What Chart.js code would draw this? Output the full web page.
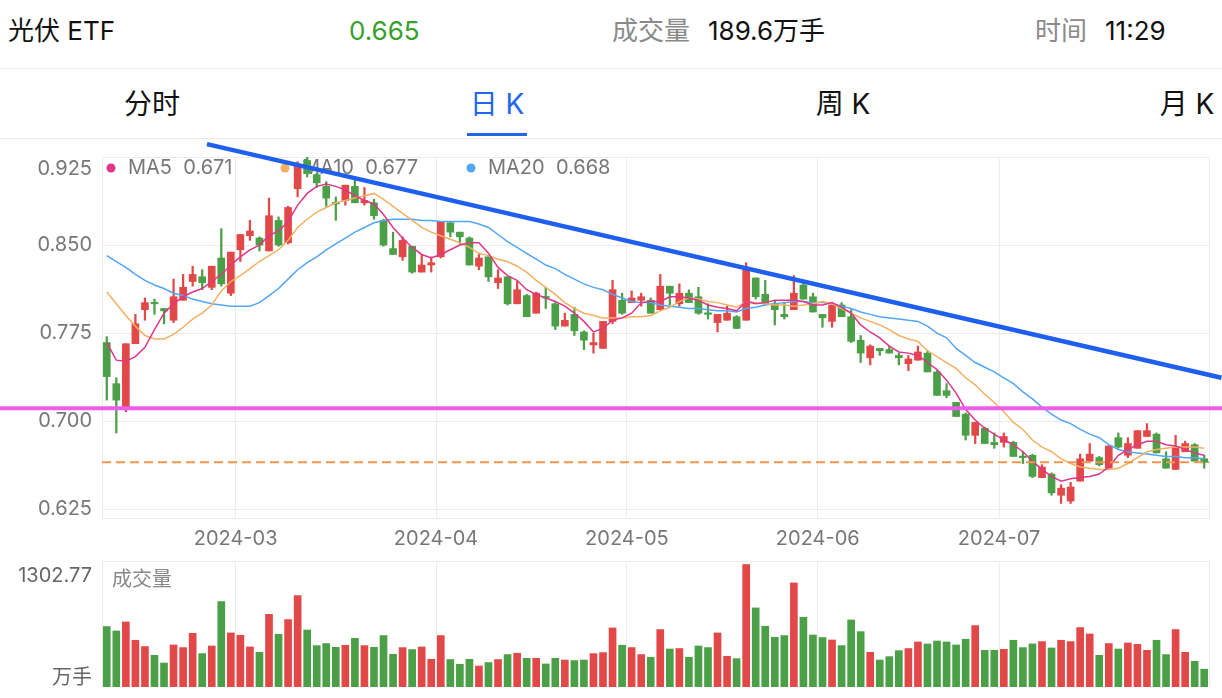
<!DOCTYPE html>
<html lang="zh-CN">
<head>
<meta charset="UTF-8">
<meta name="viewport" content="width=device-width, initial-scale=1.0">
<title>光伏 ETF 日K</title>
<script src="https://cdn.jsdelivr.net/npm/chart.js"></script>
<style>
body { margin: 0; background: #fff; font-family: Inter, "Noto Sans CJK SC", sans-serif; }
#page { position: relative; width: 1222px; height: 698px; overflow: hidden; }
.txt { position: absolute; line-height: 1; white-space: nowrap; transform: translateY(-50%); }
.mid { transform: translate(-50%, -50%); }
.rule { position: absolute; left: 0; width: 1222px; height: 1px; background: #ebebeb; }
canvas { position: absolute; left: 0; }
</style>
</head>
<body>
<div id="page">
    <!-- 顶部行情 -->
    <div class="txt" style="left:8px;top:31px;font-size:26px;color:#111">光伏 ETF</div>
    <div class="txt" id="lastPx" style="left:349px;top:31px;font-size:26px;color:#35a02a"></div>
    <div class="txt" style="left:612px;top:31px;font-size:26px;color:#8a8a8a">成交量</div>
    <div class="txt" id="lastVol" style="left:708px;top:31px;font-size:26px;color:#111"></div>
    <div class="txt" style="left:1035px;top:31px;font-size:26px;color:#8a8a8a">时间</div>
    <div class="txt" style="left:1105px;top:31px;font-size:26px;color:#111">11:29</div>
    <div class="rule" style="top:68px"></div>

    <!-- 周期切换 -->
    <div class="txt mid" style="left:152px;top:104px;font-size:28px;color:#111">分时</div>
    <div class="txt mid" style="left:497px;top:104px;font-size:28px;color:#2366ea">日 K</div>
    <div class="txt mid" style="left:843px;top:104px;font-size:28px;color:#111">周 K</div>
    <div class="txt mid" style="left:1187px;top:104px;font-size:28px;color:#111">月 K</div>
    <div style="position:absolute;left:467px;top:133px;width:60px;height:3px;background:#2366ea"></div>
    <div class="rule" style="top:138px"></div>

    <canvas id="priceChart" width="1222" height="410" style="top:140px"></canvas>
    <canvas id="volChart" width="1222" height="143" style="top:555px"></canvas>

    <div class="txt" id="volTop" style="right:1130px;top:575px;font-size:20px;color:#666"></div>
    <div class="txt" style="right:1130px;top:677px;font-size:20px;color:#666">万手</div>
    <div class="txt" style="left:112px;top:579px;font-size:20px;color:#888">成交量</div>
</div>

<script>
// ======= 数据 =======
const monthLabels = ['2024-03', '2024-04', '2024-05', '2024-06', '2024-07'];
const monthStarts = [14, 35, 55, 75, 94];
const priceTicks = [0.625, 0.700, 0.775, 0.850, 0.925];

const openP = [0.767,0.732,0.711,0.766,0.795,0.801,0.796,0.786,0.803,0.819,
0.823,0.814,0.839,0.809,0.846,0.858,0.856,0.845,0.871,0.852,
0.898,0.922,0.910,0.900,0.886,0.888,0.900,0.886,0.886,0.871,
0.847,0.840,0.849,0.827,0.833,0.840,0.869,0.861,0.856,0.832,
0.840,0.818,0.823,0.800,0.807,0.792,0.806,0.800,0.781,0.791,
0.776,0.765,0.762,0.785,0.803,0.801,0.803,0.803,0.795,0.815,
0.800,0.809,0.806,0.792,0.784,0.786,0.789,0.786,0.822,0.808,
0.800,0.791,0.795,0.816,0.806,0.791,0.785,0.799,0.789,0.769,
0.754,0.762,0.761,0.756,0.749,0.752,0.758,0.742,0.726,0.716,
0.706,0.688,0.694,0.682,0.682,0.682,0.670,0.671,0.652,0.655,
0.637,0.632,0.649,0.666,0.669,0.660,0.686,0.671,0.677,0.687,
0.689,0.668,0.659,0.674,0.680,0.668];

const closeP = [0.738,0.718,0.766,0.783,0.801,0.800,0.794,0.806,0.814,0.825,
0.818,0.832,0.817,0.844,0.859,0.862,0.850,0.875,0.850,0.882,
0.918,0.911,0.903,0.890,0.885,0.901,0.886,0.888,0.875,0.850,
0.842,0.854,0.827,0.833,0.835,0.870,0.861,0.857,0.833,0.839,
0.823,0.822,0.800,0.812,0.789,0.809,0.805,0.781,0.786,0.777,
0.769,0.767,0.785,0.812,0.792,0.805,0.806,0.792,0.815,0.809,
0.809,0.801,0.792,0.791,0.791,0.792,0.779,0.829,0.806,0.800,
0.795,0.789,0.809,0.804,0.793,0.788,0.799,0.789,0.768,0.758,
0.764,0.760,0.758,0.754,0.753,0.759,0.742,0.722,0.722,0.704,
0.688,0.699,0.681,0.680,0.687,0.670,0.669,0.653,0.661,0.639,
0.643,0.644,0.668,0.672,0.663,0.679,0.678,0.681,0.692,0.692,
0.673,0.660,0.678,0.681,0.666,0.665];

const highP = [0.772,0.737,0.766,0.791,0.805,0.804,0.796,0.821,0.825,0.832,
0.829,0.832,0.864,0.844,0.859,0.871,0.857,0.890,0.874,0.883,
0.921,0.925,0.911,0.904,0.891,0.901,0.907,0.899,0.889,0.872,
0.861,0.857,0.849,0.842,0.840,0.870,0.870,0.861,0.857,0.842,
0.840,0.829,0.823,0.819,0.808,0.810,0.814,0.801,0.792,0.797,
0.777,0.775,0.785,0.820,0.809,0.811,0.809,0.805,0.825,0.815,
0.817,0.812,0.814,0.800,0.791,0.798,0.790,0.835,0.822,0.820,
0.803,0.801,0.824,0.818,0.809,0.791,0.799,0.801,0.795,0.773,
0.765,0.762,0.764,0.758,0.756,0.764,0.760,0.743,0.732,0.716,
0.707,0.699,0.695,0.690,0.690,0.683,0.674,0.672,0.663,0.656,
0.646,0.648,0.672,0.681,0.670,0.679,0.690,0.686,0.692,0.698,
0.690,0.674,0.688,0.683,0.681,0.671];

const lowP = [0.718,0.690,0.708,0.766,0.786,0.791,0.783,0.784,0.803,0.815,
0.812,0.812,0.815,0.807,0.836,0.854,0.845,0.845,0.849,0.851,
0.891,0.908,0.899,0.883,0.871,0.884,0.886,0.884,0.872,0.849,
0.842,0.837,0.826,0.827,0.827,0.839,0.857,0.851,0.833,0.829,
0.819,0.813,0.799,0.800,0.789,0.792,0.796,0.778,0.781,0.773,
0.761,0.758,0.762,0.783,0.791,0.801,0.798,0.792,0.795,0.799,
0.798,0.801,0.791,0.787,0.776,0.786,0.779,0.786,0.804,0.799,
0.782,0.787,0.795,0.804,0.793,0.780,0.780,0.789,0.767,0.750,
0.748,0.756,0.758,0.748,0.743,0.752,0.742,0.722,0.720,0.704,
0.684,0.681,0.681,0.677,0.678,0.670,0.664,0.652,0.652,0.637,
0.630,0.630,0.649,0.666,0.662,0.660,0.677,0.669,0.677,0.687,
0.673,0.660,0.659,0.674,0.666,0.660];

const ma5 = [0.767,0.752,0.751,0.755,0.763,0.778,0.792,0.800,0.806,0.810,
0.813,0.819,0.825,0.833,0.840,0.846,0.850,0.858,0.862,0.870,
0.884,0.894,0.900,0.902,0.900,0.897,0.892,0.888,0.885,0.876,
0.865,0.856,0.848,0.842,0.839,0.842,0.846,0.850,0.852,0.852,
0.843,0.831,0.824,0.820,0.812,0.808,0.805,0.802,0.798,0.792,
0.785,0.776,0.779,0.786,0.788,0.792,0.801,0.802,0.802,0.806,
0.806,0.805,0.803,0.799,0.797,0.796,0.794,0.802,0.800,0.801,
0.803,0.803,0.803,0.802,0.799,0.799,0.801,0.797,0.792,0.782,
0.776,0.771,0.764,0.759,0.758,0.756,0.750,0.744,0.735,0.724,
0.710,0.701,0.694,0.689,0.684,0.680,0.674,0.666,0.659,0.653,
0.649,0.651,0.652,0.653,0.655,0.661,0.671,0.676,0.680,0.683,
0.683,0.680,0.679,0.676,0.673,0.671];

const ma10 = [0.810,0.800,0.790,0.781,0.773,0.770,0.770,0.774,0.780,0.787,
0.792,0.799,0.811,0.819,0.824,0.830,0.836,0.841,0.846,0.854,
0.865,0.872,0.878,0.882,0.886,0.888,0.890,0.892,0.894,0.889,
0.883,0.877,0.871,0.865,0.861,0.858,0.855,0.852,0.848,0.843,
0.841,0.838,0.836,0.832,0.827,0.820,0.814,0.808,0.801,0.796,
0.792,0.790,0.788,0.788,0.788,0.789,0.789,0.790,0.794,0.797,
0.802,0.805,0.804,0.802,0.801,0.799,0.797,0.802,0.801,0.800,
0.799,0.799,0.798,0.799,0.800,0.802,0.800,0.796,0.792,0.788,
0.785,0.782,0.778,0.773,0.770,0.768,0.760,0.755,0.750,0.745,
0.737,0.731,0.723,0.716,0.708,0.699,0.693,0.684,0.678,0.674,
0.668,0.664,0.661,0.660,0.659,0.659,0.660,0.664,0.669,0.674,
0.676,0.677,0.678,0.678,0.678,0.677];

const ma20 = [0.841,0.836,0.831,0.825,0.820,0.816,0.813,0.809,0.807,0.804,
0.802,0.800,0.799,0.798,0.798,0.798,0.801,0.807,0.813,0.821,
0.829,0.835,0.840,0.846,0.851,0.856,0.861,0.865,0.869,0.871,
0.872,0.872,0.872,0.871,0.871,0.870,0.870,0.870,0.870,0.868,
0.865,0.859,0.853,0.848,0.843,0.838,0.833,0.830,0.825,0.821,
0.817,0.814,0.812,0.808,0.805,0.802,0.801,0.801,0.799,0.798,
0.797,0.796,0.796,0.795,0.794,0.794,0.793,0.796,0.797,0.799,
0.800,0.801,0.802,0.802,0.801,0.801,0.800,0.798,0.796,0.793,
0.791,0.789,0.788,0.787,0.786,0.785,0.781,0.775,0.771,0.762,
0.756,0.750,0.746,0.742,0.737,0.732,0.725,0.719,0.712,0.706,
0.701,0.698,0.693,0.689,0.686,0.680,0.676,0.674,0.673,0.672,
0.671,0.670,0.670,0.669,0.669,0.668];

// 成交量（万手）
const volume = [643,596,692,497,430,337,255,447,419,571,
355,436,909,575,550,426,369,773,561,717,
972,606,440,462,422,444,518,440,422,547,
348,419,398,426,295,547,292,242,295,223,
260,292,345,359,305,305,245,305,287,281,
287,355,366,628,444,419,345,316,611,404,
409,316,436,419,575,327,302,1302.77,841,646,
529,547,1107,742,553,526,500,440,713,589,
369,287,323,387,409,479,458,489,479,447,
508,653,390,390,401,497,419,458,483,415,
497,483,632,564,337,462,404,468,454,390,
497,345,611,369,273,189.6];

// 画线：下降趋势线、支撑位、现价
const trendFrom = [10.5, 0.936];
const trendTo = [116.8, 0.737];
const supportLevel = 0.711;
const lastPrice = 0.665;

// ======= 配置 =======
const upColor = '#e34848';
const downColor = '#4ba047';
const gridColor = '#ececec';
const xMin = -0.5, xMax = openP.length - 0.5;
const xGrid = [xMin, ...monthStarts.map(s => s - 0.5), xMax];

Chart.defaults.font.family = 'Inter, "Noto Sans CJK SC", sans-serif';
Chart.defaults.animation = false;

const idx = openP.map((_, i) => i);
const candleColor = i => closeP[i] >= openP[i] ? upColor : downColor;
const pts = arr => arr.map((v, i) => ({ x: i, y: v }));

document.getElementById('lastPx').textContent = closeP[closeP.length - 1].toFixed(3);
document.getElementById('lastVol').textContent = volume[volume.length - 1] + '万手';
document.getElementById('volTop').textContent = Math.max(...volume).toFixed(2);

const legendItems = [
    { name: 'MA5', values: ma5, color: '#e0368a', dotX: 111 },
    { name: 'MA10', values: ma10, color: '#f3b062', dotX: 285 },
    { name: 'MA20', values: ma20, color: '#52a6f6', dotX: 471 }
];

const pricePainter = {
    id: 'pricePainter',
    beforeDatasetsDraw(chart) {
        const ctx = chart.ctx;
        const y = chart.chartArea.top + 11;
        ctx.save();
        ctx.font = '20px ' + Chart.defaults.font.family;
        ctx.textBaseline = 'middle';
        legendItems.forEach(item => {
            ctx.fillStyle = item.color;
            ctx.beginPath();
            ctx.arc(item.dotX, y, 4.5, 0, Math.PI * 2);
            ctx.fill();
            ctx.fillStyle = '#777';
            ctx.fillText(item.name + '  ' + item.values[item.values.length - 1].toFixed(3), item.dotX + 17, y);
        });
        ctx.restore();
    },
    afterDraw(chart) {
        const ctx = chart.ctx;
        const scale = chart.scales.y;
        ctx.save();
        ctx.font = '20px ' + Chart.defaults.font.family;
        ctx.fillStyle = '#777';
        ctx.textAlign = 'right';
        ctx.textBaseline = 'middle';
        priceTicks.forEach(v => {
            let py = scale.getPixelForValue(v);
            if (v === scale.max) py += 12;
            ctx.fillText(v.toFixed(3), chart.chartArea.left - 10, py);
        });
        ctx.restore();
    }
};

function lineSet(label, data, color, width, order, extra) {
    return Object.assign({
        type: 'line', label: label, data: data,
        borderColor: color, borderWidth: width,
        pointRadius: 0, tension: 0, order: order
    }, extra || {});
}

new Chart(document.getElementById('priceChart'), {
    type: 'bar',
    data: {
        datasets: [
            lineSet('趋势线', [{ x: trendFrom[0], y: trendFrom[1] }, { x: trendTo[0], y: trendTo[1] }], '#1f5fef', 4.5, 0, { clip: false }),
            lineSet('支撑', [{ x: -13, y: supportLevel }, { x: 120, y: supportLevel }], '#ee5cee', 4, 1, { clip: false }),
            lineSet('现价', [{ x: xMin, y: lastPrice }, { x: xMax, y: lastPrice }], '#f0974f', 2, 2, { borderDash: [9, 5] }),
            lineSet('MA5', pts(ma5), '#e0368a', 1.5, 3),
            lineSet('MA10', pts(ma10), '#f3b062', 1.5, 4),
            lineSet('MA20', pts(ma20), '#52a6f6', 1.5, 5),
            {
                label: '实体',
                data: idx.map(i => ({ x: i, y: [openP[i], closeP[i]] })),
                backgroundColor: idx.map(candleColor),
                barThickness: 7, grouped: false, minBarLength: 1.5, order: 8
            },
            {
                label: '影线',
                data: idx.map(i => ({ x: i, y: [lowP[i], highP[i]] })),
                backgroundColor: idx.map(candleColor),
                barThickness: 1.6, grouped: false, order: 9
            }
        ]
    },
    options: {
        responsive: false,
        events: [],
        layout: { padding: { top: 17, right: 13, left: 0, bottom: 0 } },
        plugins: { legend: { display: false }, tooltip: { enabled: false } },
        scales: {
            x: {
                type: 'linear', min: xMin, max: xMax, offset: false,
                afterBuildTicks: s => { s.ticks = xGrid.map(v => ({ value: v })); },
                afterFit: s => { s.height = 32; },
                grid: { color: gridColor, drawTicks: false, offset: false },
                border: { display: true, color: gridColor },
                ticks: {
                    autoSkip: false, maxRotation: 0, padding: 9, color: '#777',
                    font: { size: 20 },
                    callback: v => {
                        const k = monthStarts.indexOf(v + 0.5);
                        return k >= 0 ? monthLabels[k] : '';
                    }
                }
            },
            y: {
                min: 0.6176, max: 0.925,
                afterBuildTicks: s => { s.ticks = priceTicks.map(v => ({ value: v })); },
                afterFit: s => { s.width = 102; },
                grid: { color: gridColor, drawTicks: false },
                border: { display: false },
                ticks: { display: false }
            }
        }
    },
    plugins: [pricePainter]
});

const volMax = 1340;

new Chart(document.getElementById('volChart'), {
    type: 'bar',
    data: {
        datasets: [{
            label: '成交量',
            data: idx.map(i => ({ x: i, y: volume[i] })),
            backgroundColor: idx.map(candleColor),
            barThickness: 7
        }]
    },
    options: {
        responsive: false,
        events: [],
        layout: { padding: { top: 6, right: 13, left: 0, bottom: 11 } },
        plugins: { legend: { display: false }, tooltip: { enabled: false } },
        scales: {
            x: {
                type: 'linear', min: xMin, max: xMax, offset: false,
                afterBuildTicks: s => { s.ticks = xGrid.map(v => ({ value: v })); },
                afterFit: s => { s.height = 0; },
                grid: { color: gridColor, drawTicks: false, offset: false },
                border: { display: false },
                ticks: { display: false }
            },
            y: {
                min: 0, max: volMax,
                afterBuildTicks: s => { s.ticks = [{ value: volMax }]; },
                afterFit: s => { s.width = 102; },
                grid: { color: gridColor, drawTicks: false },
                border: { display: false },
                ticks: { display: false }
            }
        }
    }
});
</script>
</body>
</html>
